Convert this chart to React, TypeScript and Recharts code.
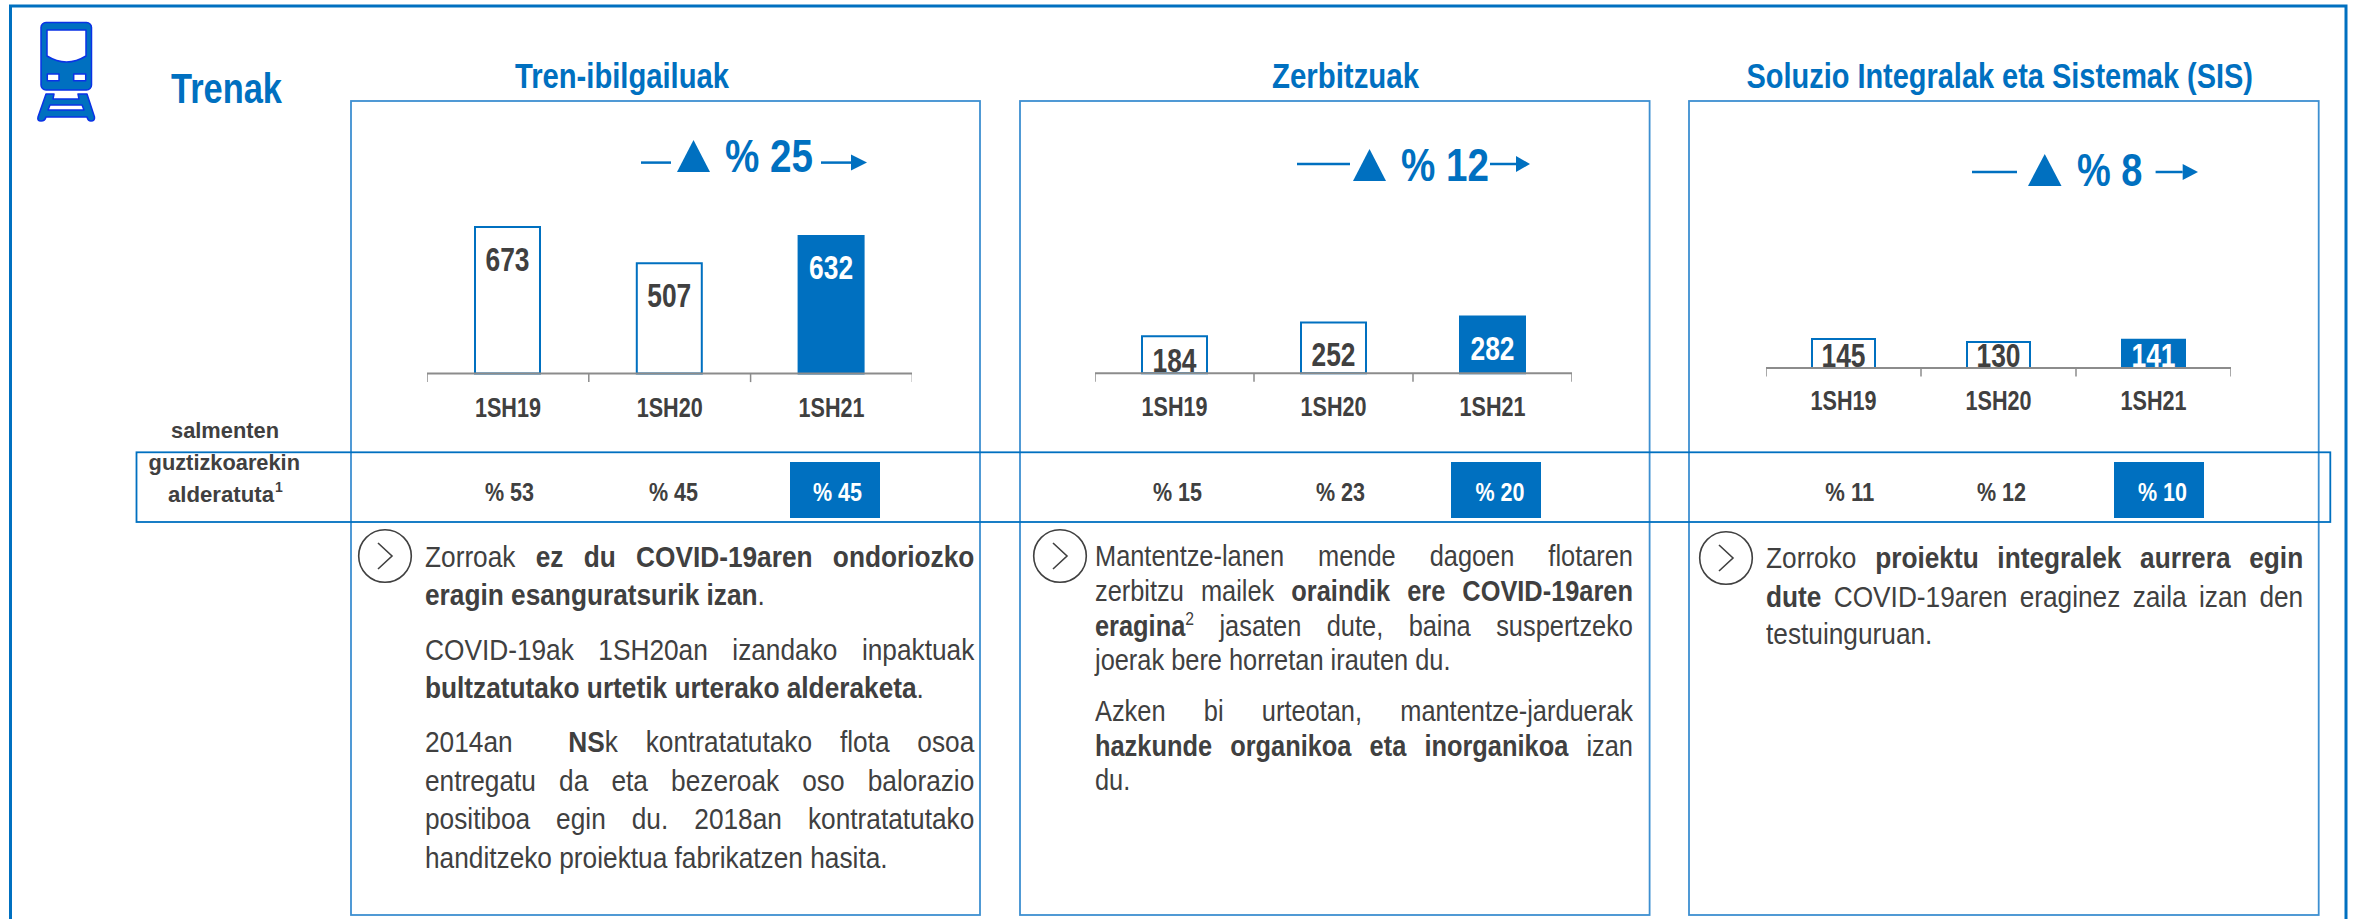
import { BarChart, Bar, Cell, XAxis, YAxis, LabelList } from "recharts";

const BLUE = "#0070c0";
const PANEL_BLUE = "#3d8fd1";
const TEXT = "#404040";
const FONT = "'Liberation Sans', Arial, sans-serif";

const categories = ["1SH19", "1SH20", "1SH21"];
const trenValues = [673, 507, 632];
const zerbitzuValues = [184, 252, 282];
const sisValues = [145, 130, 141];

const trenShares = ["% 53", "% 45", "% 45"];
const zerbitzuShares = ["% 15", "% 23", "% 20"];
const sisShares = ["% 11", "% 12", "% 10"];

type Run = [string, boolean?];
type Line = { runs: Run[]; y: number; justify?: boolean; sup?: string };

const trenText: Line[] = [
    { y: 566.7, justify: true, runs: [["Zorroak "], ["ez du COVID-19aren ondoriozko", true]] },
    { y: 605, runs: [["eragin esanguratsurik izan", true], ["."]] },
    { y: 660, justify: true, runs: [["COVID-19ak 1SH20an izandako inpaktuak"]] },
    { y: 698, runs: [["bultzatutako urtetik urterako alderaketa", true], ["."]] },
    { y: 751.7, justify: true, runs: [["2014an\u00a0 "], ["NS", true], ["k kontratatutako flota osoa"]] },
    { y: 790.7, justify: true, runs: [["entregatu da eta bezeroak oso balorazio"]] },
    { y: 829, justify: true, runs: [["positiboa egin du. 2018an kontratatutako"]] },
    { y: 867.7, runs: [["handitzeko proiektua fabrikatzen hasita."]] },
];
const zerbitzuText: Line[] = [
    { y: 566.7, justify: true, runs: [["Mantentze-lanen mende dagoen flotaren"]] },
    { y: 601.7, justify: true, runs: [["zerbitzu mailek "], ["oraindik ere COVID-19aren", true]] },
    { y: 636, justify: true, sup: "2", runs: [["eragina", true], [" jasaten dute, baina suspertzeko"]] },
    { y: 670.7, runs: [["joerak bere horretan irauten du."]] },
    { y: 721.7, justify: true, runs: [["Azken bi urteotan, mantentze-jarduerak"]] },
    { y: 756, justify: true, runs: [["hazkunde organikoa eta inorganikoa", true], [" izan"]] },
    { y: 790.7, runs: [["du."]] },
];
const sisText: Line[] = [
    { y: 568, justify: true, runs: [["Zorroko "], ["proiektu integralek aurrera egin", true]] },
    { y: 606.7, justify: true, runs: [["dute", true], [" COVID-19aren eraginez zaila izan den"]] },
    { y: 644, runs: [["testuinguruan."]] },
];

const panels = [
    {
        title: "Tren-ibilgailuak", titleX: 515, titleW: 214,
        panelX: 351, panelW: 629,
        values: trenValues, chartX: 426.7, catW: 161.8, axisY: 373.6, scale: 0.2178, tickDy: 43, barW: 65,
        shares: trenShares, shareX: [485, 649, 813], boxX: 790, boxW: 90,
        delta: "% 25", lineX: [641, 671], deltaY: 162.6, triX: [677, 710], triY: [140, 172], textX: 725, textW: 88, base: 172.4, arrowX: [821, 851, 867],
        lines: trenText, textLeft: 424.7, textRight: 974, fontSize: 30, circleX: 385, circleY: 556,
    },
    {
        title: "Zerbitzuak", titleX: 1272, titleW: 147,
        panelX: 1020, panelW: 629.6,
        values: zerbitzuValues, chartX: 1095, catW: 159, axisY: 373.3, scale: 0.2015, tickDy: 43, barW: 65,
        shares: zerbitzuShares, shareX: [1153, 1316, 1475.4], boxX: 1451, boxW: 90,
        delta: "% 12", lineX: [1297, 1350], deltaY: 164, triX: [1353, 1386], triY: [149, 181], textX: 1401, textW: 88, base: 181, arrowX: [1490, 1516, 1530],
        lines: zerbitzuText, textLeft: 1095, textRight: 1633, fontSize: 29, circleX: 1060, circleY: 556,
    },
    {
        title: "Soluzio Integralak eta Sistemak (SIS)", titleX: 1746.5, titleW: 506.5,
        panelX: 1689, panelW: 629.7,
        values: sisValues, chartX: 1766, catW: 155, axisY: 368, scale: 0.2005, tickDy: 42, barW: 63,
        shares: sisShares, shareX: [1825.3, 1977, 2138], boxX: 2114, boxW: 90,
        delta: "% 8", lineX: [1972, 2017], deltaY: 172, triX: [2028, 2061.5], triY: [154, 186], textX: 2077, textW: 65.4, base: 186, arrowX: [2155.6, 2182.7, 2198],
        lines: sisText, textLeft: 1766.4, textRight: 2303.6, fontSize: 30, circleX: 1726, circleY: 558,
    },
];

const CHART_TOP = 200;
const BELOW_AXIS = 55;

const Label = ({ x, y, w, size, weight = "bold", fill = TEXT, children }: any) => (
    <text x={x} y={y} fontFamily={FONT} fontSize={size} fontWeight={weight} fill={fill} textLength={w} lengthAdjust="spacingAndGlyphs">
        {children}
    </text>
);

// value inside the bar, sits on the axis when the bar is short
const BarValue = ({ x, y, width, height, value, index }: any) => (
    <text
        x={x + width / 2}
        y={Math.min(y + 43.5, y + height - 1)}
        textAnchor="middle"
        fontFamily={FONT}
        fontSize={33}
        fontWeight="bold"
        fill={index === 2 ? "#fff" : TEXT}
        textLength={44}
        lengthAdjust="spacingAndGlyphs"
    >
        {value}
    </text>
);

// ticks of this chart stand between the categories, not under them
const makeTick = (catW: number, dy: number) => ({ x, y, payload, index }: any) => (
    <g>
        <line x1={x - catW / 2} x2={x - catW / 2} y1={y} y2={y + 8.5} stroke="#8c8c8c" strokeWidth={1.5} />
        {index === 2 && <line x1={x + catW / 2} x2={x + catW / 2} y1={y} y2={y + 8.5} stroke="#8c8c8c" strokeWidth={1.5} />}
        <text x={x} y={y + dy} textAnchor="middle" fontFamily={FONT} fontSize={27} fontWeight="bold" fill={TEXT} textLength={66} lengthAdjust="spacingAndGlyphs">
            {payload.value}
        </text>
    </g>
);

const PanelChart = ({ p }: { p: (typeof panels)[number] }) => {
    const plotH = p.axisY - CHART_TOP;
    const data = categories.map((name, i) => ({ name, value: p.values[i] }));
    return (
        <div style={{ position: "absolute", left: p.chartX, top: CHART_TOP }}>
            <BarChart width={p.catW * 3} height={plotH + BELOW_AXIS} data={data} barSize={p.barW} margin={{ top: 0, right: 0, bottom: 0, left: 0 }}>
                <YAxis hide domain={[0, plotH / p.scale]} />
                <XAxis
                    dataKey="name"
                    height={BELOW_AXIS}
                    interval={0}
                    tickSize={0}
                    tickMargin={0}
                    tickLine={false}
                    axisLine={{ stroke: "#8c8c8c", strokeWidth: 2 }}
                    tick={makeTick(p.catW, p.tickDy)}
                />
                <Bar dataKey="value" isAnimationActive={false} strokeWidth={2} stroke={BLUE}>
                    {data.map((d, i) => (
                        <Cell key={d.name} fill={i === 2 ? BLUE : "#fff"} />
                    ))}
                    <LabelList dataKey="value" content={BarValue} />
                </Bar>
            </BarChart>
        </div>
    );
};

const Paragraphs = ({ p }: { p: (typeof panels)[number] }) => {
    const squeeze = 0.875;
    const w = p.textRight - p.textLeft;
    return (
        <>
            {p.lines.map((l, i) => (
                <div
                    key={i}
                    style={{
                        position: "absolute",
                        left: p.textLeft,
                        top: l.y - 0.905 * p.fontSize,
                        width: w / squeeze,
                        transform: `scaleX(${squeeze})`,
                        transformOrigin: "left top",
                        fontFamily: FONT,
                        fontSize: p.fontSize,
                        lineHeight: `${1.117 * p.fontSize}px`,
                        color: TEXT,
                        textAlign: "left",
                        textAlignLast: l.justify ? "justify" : "left",
                    }}
                >
                    {l.runs.map(([t, bold], j) => (
                        <span key={j} style={{ fontWeight: bold ? "bold" : "normal" }}>
                            {t}
                            {l.sup && j === 0 && <sup style={{ fontSize: "0.62em", fontWeight: "normal", lineHeight: 0 }}>{l.sup}</sup>}
                        </span>
                    ))}
                </div>
            ))}
        </>
    );
};

const TrainIcon = () => (
    <g fill={BLUE} stroke="#0a32e6" strokeWidth={1.5} strokeLinejoin="round">
        <rect x={41} y={22.5} width={50.5} height={67.5} rx={5} />
        <path d="M47 30 H86 V56 Q66.5 68 47 56 Z" fill="#fff" />
        <rect x={47.3} y={74} width={11.7} height={6.7} fill="#fff" />
        <rect x={73.7} y={74} width={12} height={6.7} fill="#fff" />
        <path d="M46 94 H54 L53 99 H79 L78 94 H87 L94.5 117 Q95 121 91 121 Q88 121 87 117 H46 Q45 121 41 121 Q37 121 38 117 Z" />
        <path d="M50 105 H82 L84 110 H48 Z" fill="#fff" />
    </g>
);

const Chevron = ({ cx, cy }: { cx: number; cy: number }) => (
    <g fill="none" stroke={TEXT} strokeWidth={1.6}>
        <circle cx={cx} cy={cy} r={26.3} fill="#fff" />
        <path d={`M${cx - 7} ${cy - 13} L${cx + 7} ${cy} L${cx - 7} ${cy + 13}`} />
    </g>
);

const Overlay = () => (
    <svg width={2356} height={919} style={{ position: "absolute", left: 0, top: 0 }}>
        {/* outer frame, open at the bottom */}
        <path d="M10.5 925 V6 H2346 V925" fill="none" stroke={BLUE} strokeWidth={3} />
        <TrainIcon />
        <Label x={171} y={103} w={111} size={43} fill={BLUE}>Trenak</Label>
        {panels.map((p) => (
            <g key={p.title}>
                <rect x={p.panelX} y={101} width={p.panelW} height={814} fill="none" stroke={PANEL_BLUE} strokeWidth={1.8} />
                <Label x={p.titleX} y={88} w={p.titleW} size={35} fill={BLUE}>{p.title}</Label>
                {/* growth arrow */}
                <line x1={p.lineX[0]} x2={p.lineX[1]} y1={p.deltaY} y2={p.deltaY} stroke={BLUE} strokeWidth={2.5} />
                <path d={`M${p.triX[0]} ${p.triY[1]} L${(p.triX[0] + p.triX[1]) / 2} ${p.triY[0]} L${p.triX[1]} ${p.triY[1]} Z`} fill={BLUE} />
                <Label x={p.textX} y={p.base} w={p.textW} size={47} fill={BLUE}>{p.delta}</Label>
                <line x1={p.arrowX[0]} x2={p.arrowX[1]} y1={p.deltaY} y2={p.deltaY} stroke={BLUE} strokeWidth={2.5} />
                <path d={`M${p.arrowX[1]} ${p.deltaY - 8} L${p.arrowX[2]} ${p.deltaY} L${p.arrowX[1]} ${p.deltaY + 8} Z`} fill={BLUE} />
                {/* share row */}
                <rect x={p.boxX} y={462} width={p.boxW} height={56} fill={BLUE} />
                {p.shares.map((s, i) => (
                    <Label key={i} x={p.shareX[i]} y={501} w={49} size={26} fill={i === 2 ? "#fff" : TEXT}>{s}</Label>
                ))}
                <Chevron cx={p.circleX} cy={p.circleY} />
            </g>
        ))}
        <rect x={136.5} y={452.3} width={2193.8} height={69.7} fill="none" stroke={BLUE} strokeWidth={1.8} />
        <Label x={171} y={438} w={108} size={22}>salmenten</Label>
        <Label x={148.6} y={470} w={151.4} size={22}>guztizkoarekin</Label>
        <Label x={168} y={502} w={106} size={22}>alderatuta</Label>
        <text x={275} y={492} fontFamily={FONT} fontSize={14} fontWeight="bold" fill={TEXT}>1</text>
    </svg>
);

const App = () => (
    <div style={{ position: "absolute", left: 0, top: 0, width: 2356, height: 919, overflow: "hidden", background: "#fff" }}>
        <Overlay />
        {panels.map((p) => (
            <PanelChart key={p.title} p={p} />
        ))}
        {panels.map((p) => (
            <Paragraphs key={p.title} p={p} />
        ))}
    </div>
);

export default App;
